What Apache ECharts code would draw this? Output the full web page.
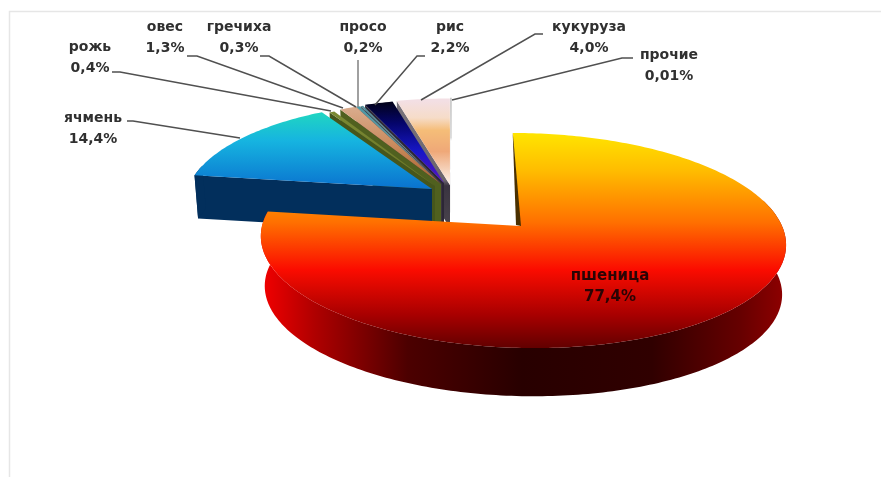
<!DOCTYPE html>
<html><head><meta charset="utf-8">
<style>html,body{margin:0;padding:0;background:#fff}#c{width:881px;height:477px}</style>
<script src="https://cdn.jsdelivr.net/npm/echarts@6/dist/echarts.min.js"></script>
</head><body><div id="c"></div>
<script>
// ---- data ----
const categories = ['пшеница','ячмень','рожь','овес','гречиха','просо','рис','кукуруза','прочие'];
const shares = [77.4,14.4,0.4,1.3,0.3,0.2,2.2,4.0,0.01];

// ---- layout / style (not data) ----
const base = {x:520,y:226,B:260,A:105.6,k:0.135};
const place = [
 {ox:0,oy:0,s:1,shear:0.1,rim:2,depth:50},
 {ox:-88,oy:-37,s:0.94,shear:0,rim:0,depth:43},
 {ox:-85,oy:-40,s:0.9,shear:0,rim:0,depth:43},
 {ox:-79,oy:-42,s:0.9,shear:0,rim:0,depth:43},
 {ox:-79,oy:-42,s:0.9,shear:0,rim:0,depth:43},
 {ox:-78,oy:-42,s:0.9,shear:0,rim:0,depth:43},
 {ox:-76,oy:-43,s:0.9,shear:0,rim:0,depth:43},
 {ox:-70,oy:-41,s:0.93,shear:0,rim:0,depth:43},
 {ox:-69,oy:-41,s:0.93,shear:0,rim:0,depth:43}
];
const G = echarts.graphic;
const vg = (y1,y2,st)=>new G.LinearGradient(0,y1,0,y2,st.map(a=>({offset:a[0],color:a[1]})),true);
const topFill = [
 vg(132,347,[[0,'#ffe600'],[0.18,'#ffbc00'],[0.42,'#ff7000'],[0.64,'#fb0c00'],[0.85,'#a80000'],[1,'#640000']]),
 vg(115,189,[[0,'#1fd3c4'],[0.35,'#16b4e0'],[1,'#0a72cf']]),
 vg(110,186,[[0,'#7b8a34'],[1,'#6a7426']]),
 vg(108,184,[[0,'#d9ab8c'],[0.5,'#c98a5c'],[1,'#a8622c']]),
 vg(106,184,[[0,'#4a9aa8'],[1,'#7d8c88']]),
 vg(106,184,[[0,'#55909c'],[1,'#808080']]),
 vg(103,183,[[0,'#02021c'],[0.25,'#05056a'],[0.6,'#1616c6'],[1,'#5a14c2']]),
 vg(101,185,[[0,'#f3dfe4'],[0.2,'#f6dcc8'],[0.35,'#f5bd78'],[0.6,'#efa878'],[0.85,'#f6d8c4'],[1,'#fdf4ee']]),
 vg(100,185,[[0,'#bbbbbb'],[1,'#ffffff']])
];
const darkWall = vg(100,230,[[0,'#7a747c'],[0.62,'#6a646c'],[0.66,'#3a3440'],[1,'#4a444e']]);
const wallFill = [
 new G.LinearGradient(262,0,782,0,[{offset:0,color:'#f20000'},{offset:0.1,color:'#b00000'},{offset:0.28,color:'#4c0000'},{offset:0.5,color:'#280000'},{offset:0.75,color:'#300000'},{offset:0.92,color:'#660000'},{offset:1,color:'#8c0000'}],true),
 '#022f5c','#46561c','#50601f','#3a3240','#3a3240','#2c2636',darkWall,darkWall
];
const labelPos = [[610,287],[93,129],[90,58],[165,38],[239,38],[363,38],[450,38],[589,38],[669,66]];
const labelSize = [15,14,14,14,14,14,14,14,14];
const leaders = [null,
 [[127,121],[133,121],[240,138]],
 [[112,72],[120,72],[331,111]],
 [[187,56],[197,56],[343,108]],
 [[260,56],[269,56],[356,107]],
 [[358,60],[358,107]],
 [[425,56],[417,56],[375,105]],
 [[543,34],[535,34],[421,100]],
 [[633,58],[622,58],[452,100]]
];
const total = shares.reduce((a,b)=>a+b,0);
let acc = 0;
const startAngle = shares.map(v=>{const a=acc/total*2*Math.PI;acc+=v;return a;});
const pct = v => (v<0.1?v.toFixed(2):v.toFixed(1)).replace('.',',')+'%';

function rimPoint(i,th,sc,dy){
  const p=place[i],u=Math.sin(th),v=Math.cos(th),w=1+base.k*v;
  const X=base.B*u/w*p.s*sc, Y=-base.A*v/w*p.s*sc;
  return [base.x+p.ox+X+p.rim+p.shear*Y, base.y+p.oy+Y+dy];
}
function renderItem(params,api){
  const i=api.value(0), p=place[i], val=api.value(1);
  const a0=startAngle[i], a1=a0+val/total*2*Math.PI;
  const apex=[base.x+p.ox,base.y+p.oy], apexB=[apex[0],apex[1]+p.depth];
  const n=Math.max(2,Math.ceil((a1-a0)/(Math.PI/180)));
  const top=[],bot=[],wt=[],wb=[];
  for(let j=0;j<=n;j++){
    const t=a0+(a1-a0)*j/n;
    const a=rimPoint(i,t,1,0),b=rimPoint(i,t,0.985,p.depth);
    top.push(a);bot.push(b);
    if(Math.cos(t)<0.25){wt.push(a);wb.push(b);}
  }
  const ch=[];
  if(i!==0){
    ch.push({type:'polygon',z2:0,shape:{points:[apex,top[0],bot[0],apexB]},style:{fill:wallFill[i]}});
  }
  if(wt.length>1){
    ch.push({type:'polygon',z2:0,shape:{points:wt.concat(wb.reverse())},style:{fill:wallFill[i]}});
  }
  const poly=[apex].concat(top);
  const st={fill:topFill[i]};
  if(i===8){st.stroke=vg(100,142,[[0,'#c4c4c4'],[0.9,'#d4d4d4'],[1,'rgba(255,255,255,0)']]);st.lineWidth=1.5;st.fill='rgba(0,0,0,0)';}
  ch.push({type:'polygon',z2:1,shape:{points:poly},style:st});
  if(i===0){
    ch.push({type:'polygon',z2:2,shape:{points:[top[0],[top[0][0]+1,top[0][1]+10],[apex[0]+1,apex[1]],[apex[0]-4,apex[1]-1]]},style:{fill:'#4a3000'}});
  }
  if(leaders[i]){
    ch.push({type:'polyline',z2:3,shape:{points:leaders[i]},style:{fill:'none',stroke:i===5?'#808080':'#505050',lineWidth:1.5}});
  }
  ch.push({type:'text',z2:4,x:labelPos[i][0],y:labelPos[i][1],style:{
    text:categories[i]+'\n'+pct(val),align:'center',verticalAlign:'middle',
    font:'bold '+labelSize[i]+'px "DejaVu Sans"',lineHeight:21,fill:i===0?'#2a0404':'#303030'}});
  return {type:'group',children:ch};
}
const seriesData = categories.map((c,i)=>({name:c,value:[i,shares[i]]})).reverse();
const chart = echarts.init(document.getElementById('c'),null,{renderer:'canvas'});
chart.setOption({
  animation:false,backgroundColor:'#ffffff',
  graphic:[{type:'polyline',silent:true,shape:{points:[[9.5,477],[9.5,11.5],[881,11.5]]},style:{fill:'none',stroke:'#e6e6e6',lineWidth:1.5}}],
  series:[{type:'custom',coordinateSystem:'none',renderItem:renderItem,data:seriesData,clip:false,silent:true,
    encode:{value:1}}]
});
</script></body></html>
